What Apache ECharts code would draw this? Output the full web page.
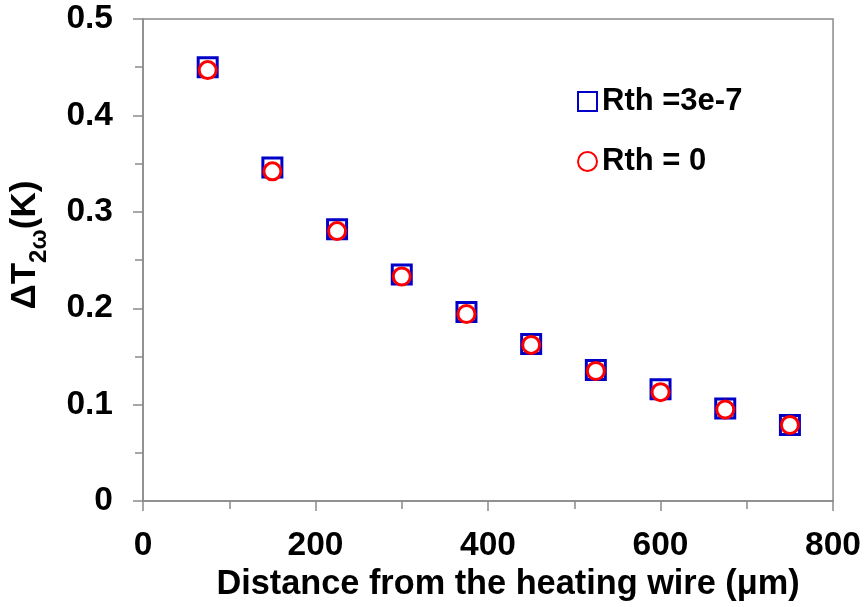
<!DOCTYPE html>
<html><head><meta charset="utf-8">
<script src="https://cdn.jsdelivr.net/npm/echarts@6/dist/echarts.min.js"></script>
<style>html,body{margin:0;padding:0;background:#fff}#c{width:864px;height:607px}</style>
</head><body><div id="c"></div>
<script>
const distances = [75, 150, 225, 300, 375, 450, 525, 600, 675, 750];
const rth3e7 = [0.450, 0.346, 0.282, 0.235, 0.196, 0.163, 0.136, 0.116, 0.096, 0.079];
const rth0 = [0.447, 0.342, 0.280, 0.233, 0.194, 0.162, 0.135, 0.113, 0.095, 0.079];
const seriesNames = ['Rth =3e-7', 'Rth = 0'];

const FONT = '"Liberation Sans", Arial, sans-serif';
const axisGrey = '#8a8a8a';
const chart = echarts.init(document.getElementById('c'), null, {renderer: 'canvas'});
chart.setOption({
  animation: false,
  backgroundColor: '#fff',
  grid: {left: 141, right: 30, top: 19, bottom: 105.5, show: true, borderColor: axisGrey, borderWidth: 1.5},
  legend: {
    orient: 'vertical', left: 572, top: 81, itemWidth: 19, itemHeight: 19, itemGap: 29,
    data: seriesNames,
    textStyle: {fontFamily: FONT, fontWeight: 'bold', fontSize: 31, color: '#000', padding: [0, 0, 0, 0]}
  },
  xAxis: {
    type: 'value', min: 0, max: 800, interval: 200,
    axisLine: {lineStyle: {color: axisGrey, width: 1.5}},
    axisTick: {show: true, length: 10, lineStyle: {color: axisGrey, width: 1.5}},
    minorTick: {show: true, splitNumber: 2, length: 8, lineStyle: {color: axisGrey, width: 1.5}},
    splitLine: {show: false},
    axisLabel: {fontFamily: FONT, fontWeight: 'bold', fontSize: 33.5, color: '#000', margin: 28},
    name: 'Distance from the heating wire (μm)', nameLocation: 'middle', nameGap: 66,
    nameTextStyle: {fontFamily: FONT, fontWeight: 'bold', fontSize: 34.3, color: '#000', padding: [0, 0, 0, 40]}
  },
  yAxis: {
    type: 'value', min: 0, max: 0.5, interval: 0.1,
    axisLine: {show: true, lineStyle: {color: axisGrey, width: 1.5}},
    axisTick: {show: true, length: 10, lineStyle: {color: axisGrey, width: 1.5}},
    minorTick: {show: true, splitNumber: 2, length: 8, lineStyle: {color: axisGrey, width: 1.5}},
    splitLine: {show: false},
    axisLabel: {fontFamily: FONT, fontWeight: 'bold', fontSize: 33.5, color: '#000', margin: 30,
      formatter: v => v === 0 ? '0' : v.toFixed(1)},
    name: '{m|ΔT}{s|2ω}{m|(K)}', nameLocation: 'middle', nameGap: 100,
    nameTextStyle: {
      padding: [0, 0, 0, 30],
      rich: {
        m: {fontFamily: FONT, fontWeight: 'bold', fontSize: 35, color: '#000', lineHeight: 40, verticalAlign: 'bottom'},
        s: {fontFamily: FONT, fontWeight: 'bold', fontSize: 24, color: '#000', lineHeight: 40, verticalAlign: 'bottom', padding: [0, 0, -8, 0]}
      }
    }
  },
  series: [
    {
      name: seriesNames[0], type: 'scatter', symbol: 'rect', symbolSize: 19,
      itemStyle: {color: '#fff', borderColor: '#0000c8', borderWidth: 3, opacity: 1},
      data: distances.map((d, i) => [d, rth3e7[i]]), z: 2
    },
    {
      name: seriesNames[1], type: 'scatter', symbol: 'circle', symbolSize: 17,
      itemStyle: {color: '#fff', borderColor: '#ff0000', borderWidth: 3, opacity: 1},
      data: distances.map((d, i) => [d, rth0[i]]), z: 3
    }
  ]
});
</script></body></html>
